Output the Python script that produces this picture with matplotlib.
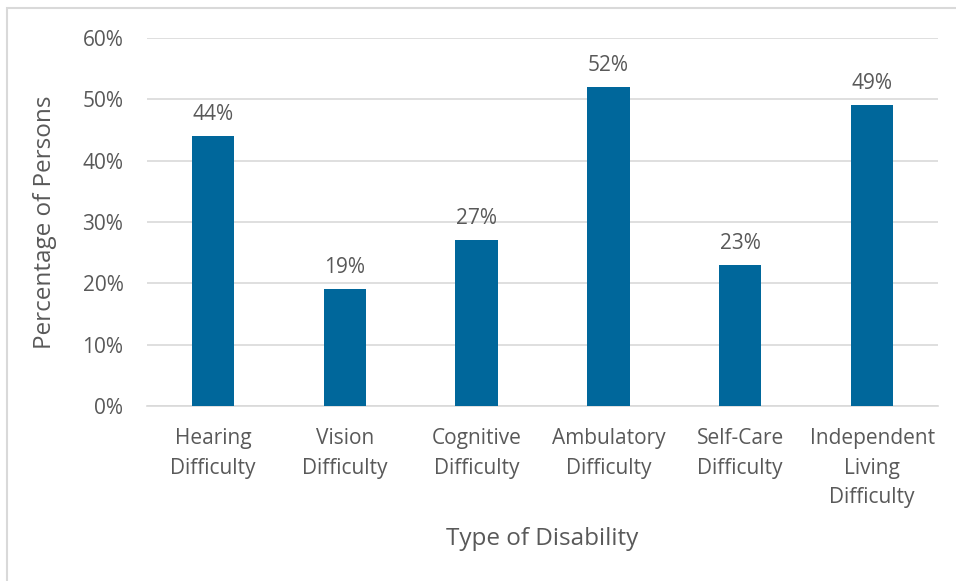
import matplotlib.pyplot as plt
from matplotlib.patches import Rectangle
from matplotlib.ticker import FuncFormatter

# data
categories = ["Hearing\nDifficulty", "Vision\nDifficulty", "Cognitive\nDifficulty",
              "Ambulatory\nDifficulty", "Self-Care\nDifficulty",
              "Independent\nLiving\nDifficulty"]
percentages = [44, 19, 27, 52, 23, 49]

bar_color = "#00679B"
text_color = "#595959"
grid_color = "#D9D9D9"

plt.rcParams["font.family"] = ["Open Sans", "DejaVu Sans"]

fig = plt.figure(figsize=(9.56, 5.81), dpi=100)
ax = fig.add_axes([147 / 956, 1 - 406 / 581, (938 - 147) / 956, (406 - 38) / 581])

# light frame around the chart
fig.patches.append(Rectangle((6.5 / 956, -0.05), 1.2, 1 - 8 / 581 + 0.05,
                             transform=fig.transFigure, fill=False,
                             edgecolor=grid_color, linewidth=1.5))

x = range(len(categories))
bars = ax.bar(x, percentages, width=0.32, color=bar_color, zorder=3)

for rect, val in zip(bars, percentages):
    ax.annotate(f"{val}%", (rect.get_x() + rect.get_width() / 2, val),
                xytext=(0, 8), textcoords="offset points",
                ha="center", va="bottom", fontsize=15, color=text_color)

ax.set_xlim(-0.5, len(categories) - 0.5)
ax.set_ylim(0, 60)
ax.set_yticks(range(0, 61, 10))
ax.yaxis.set_major_formatter(FuncFormatter(lambda v, p: f"{v:.0f}%"))
ax.set_xticks(list(x))
ax.set_xticklabels(categories, linespacing=1.52)

ax.yaxis.grid(True, color=grid_color, linewidth=1.2, zorder=0)
for side in ["top", "right", "left"]:
    ax.spines[side].set_visible(False)
ax.spines["bottom"].set_color(grid_color)
ax.spines["bottom"].set_linewidth(1.2)

ax.tick_params(axis="both", length=0, labelsize=15, colors=text_color)
ax.tick_params(axis="y", pad=17)
ax.tick_params(axis="x", pad=16)

ax.set_xlabel("Type of Disability", fontsize=17.5, color=text_color, labelpad=14)
ax.set_ylabel("Percentage of Persons", fontsize=17.5, color=text_color, labelpad=18)

fig.savefig("out.png", dpi=100)
